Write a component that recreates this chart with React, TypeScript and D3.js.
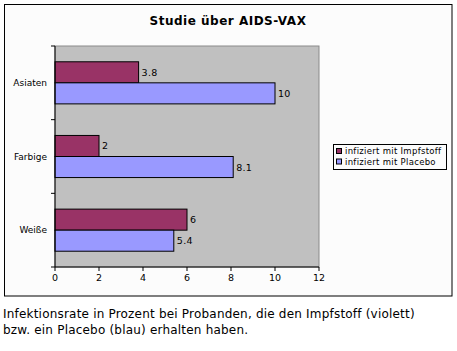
import React from "react";
import * as d3 from "d3";

const categories = ["Asiaten", "Farbige", "Weiße"];
const seriesNames = ["infiziert mit Impfstoff", "infiziert mit Placebo"];
const vaccine = [3.8, 2, 6];
const placebo = [10, 8.1, 5.4];
const xTicks = [0, 2, 4, 6, 8, 10, 12];
const colors = ["#993366", "#9999ff"];
const title = "Studie über AIDS-VAX";
const caption = [
  "Infektionsrate in Prozent bei Probanden, die den Impfstoff (violett)",
  "bzw. ein Placebo (blau) erhalten haben.",
];

const W = 457;
const H = 351;
const FONT = "'DejaVu Sans', Verdana, sans-serif";

export default function App() {
  const plot = { left: 55, right: 319, top: 46, bottom: 267 };
  const x = d3.scaleLinear().domain([0, 12]).range([plot.left, plot.right]);
  const y = d3
    .scaleBand<string>()
    .domain(categories)
    .range([plot.top, plot.bottom])
    .paddingInner(0)
    .paddingOuter(0);
  const inner = d3
    .scaleBand<number>()
    .domain([0, 1])
    .range([0, y.bandwidth()])
    .paddingInner(0)
    .paddingOuter(0.75);
  const series = [vaccine, placebo];
  const bounds = [plot.top, ...categories.map((c) => (y(c) as number) + y.bandwidth())];

  return (
    <svg
      width={W}
      height={H}
      style={{ position: "absolute", left: 0, top: 0, background: "#ffffff" }}
      fontFamily={FONT}
    >
      <rect x={4.5} y={4.5} width={447.5} height={291.5} fill="#fcfcfc" stroke="#000" strokeWidth={1} />
      <text x={228} y={25} textAnchor="middle" fontWeight="bold" fontSize={12} letterSpacing={0.5} fill="#000">
        {title}
      </text>
      <rect
        x={plot.left}
        y={plot.top}
        width={plot.right - plot.left}
        height={plot.bottom - plot.top}
        fill="#c0c0c0"
        stroke="#8a8a8a"
        strokeWidth={1}
      />
      {categories.map((c, ci) =>
        series.map((s, si) => {
          const y0 = (y(c) as number) + (inner(si) as number);
          const bw = inner.bandwidth();
          return (
            <g key={c + si}>
              <rect
                x={x(0)}
                y={y0}
                width={x(s[ci]) - x(0)}
                height={bw}
                fill={colors[si]}
                stroke="#000"
                strokeWidth={1}
              />
              <text
                x={x(s[ci]) + 3}
                y={y0 + bw / 2}
                dominantBaseline="central"
                fontSize={9.5}
                letterSpacing={0.3}
                fill="#000"
              >
                {String(s[ci])}
              </text>
            </g>
          );
        })
      )}
      {/* y axis */}
      <line x1={plot.left} x2={plot.left} y1={plot.top} y2={plot.bottom} stroke="#000" />
      {bounds.map((b, i) => (
        <line key={i} x1={plot.left - 4} x2={plot.left} y1={b} y2={b} stroke="#000" />
      ))}
      {categories.map((c) => (
        <text
          key={c}
          x={47}
          y={(y(c) as number) + y.bandwidth() / 2}
          textAnchor="end"
          dominantBaseline="central"
          fontSize={9}
          fill="#000"
        >
          {c}
        </text>
      ))}
      {/* x axis */}
      <line x1={plot.left} x2={plot.right} y1={plot.bottom} y2={plot.bottom} stroke="#000" />
      {xTicks.map((t) => (
        <g key={t}>
          <line x1={x(t)} x2={x(t)} y1={plot.bottom} y2={plot.bottom + 4} stroke="#000" />
          <text x={x(t)} y={281} textAnchor="middle" fontSize={9.5} fill="#000">
            {t}
          </text>
        </g>
      ))}
      {/* legend */}
      <rect x={333.5} y={144.5} width={113} height={25} fill="#fcfcfc" stroke="#000" />
      {seriesNames.map((n, i) => (
        <g key={n}>
          <rect x={336.5} y={148.5 + i * 10.5} width={5} height={5} fill={colors[i]} stroke="#000" />
          <text x={345} y={151 + i * 10.5} dominantBaseline="central" fontSize={8.5} letterSpacing={0.3} fill="#000">
            {n}
          </text>
        </g>
      ))}
      {caption.map((l, i) => (
        <text key={i} x={3} y={318 + i * 16} fontSize={12} letterSpacing={0.2} fill="#000">
          {l}
        </text>
      ))}
    </svg>
  );
}
